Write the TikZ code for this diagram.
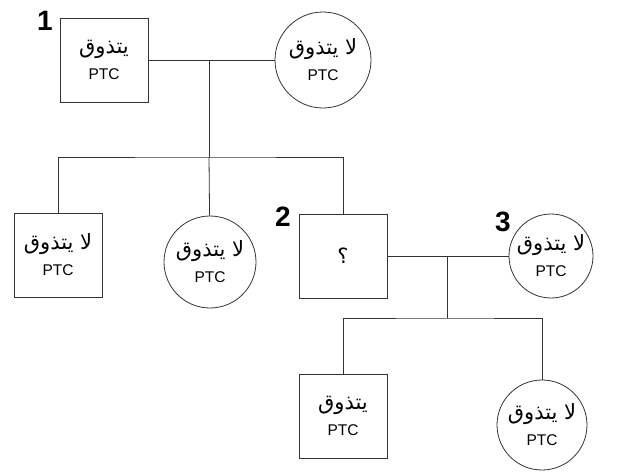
\documentclass[tikz,border=0pt]{standalone}
\usepackage{fontspec}
\setmainfont{Liberation Sans}
\newfontfamily\arabicfont[Script=Arabic]{DejaVu Sans}
\TeXXeTstate=1
\usetikzlibrary{positioning}
\colorlet{colorLine}{black!80}
\newcommand{\artxt}[1]{{\arabicfont\fontsize{21}{26}\selectfont\beginR #1\endR}}
\newcommand{\ptc}[1]{\artxt{#1}\\PTC}
\tikzset{
   link/.style={draw=colorLine,line width=0.8pt},
   male/.style={rectangle,draw=colorLine,line width=0.8pt,minimum width=88pt,minimum height=84pt,
      inner sep=0pt,align=center,font=\fontsize{15.5}{26}\selectfont},
   female/.style={circle,draw=colorLine,line width=0.8pt,minimum size=#1,
      inner sep=0pt,align=center,font=\fontsize{15.5}{26}\selectfont},
   gen/.style={font=\fontsize{28}{30}\selectfont\bfseries,inner sep=0pt},
}

\begin{document}
\begin{tikzpicture}[x=1pt,y=-1pt]
      \useasboundingbox (0,0) rectangle (618,472);
      \node[male] (f1) at (104,60) {\ptc{يتذوق}};
      \node[female=96pt] (m1) at (323,60) {\ptc{لا يتذوق}};
      \node[gen] (n1) at (45,21) {1};
      \node[male] (c1) at (58,255) {\ptc{لا يتذوق}};
      \node[female=92pt] (c2) at (210,262) {\ptc{لا يتذوق}};
      \node[male] (p2) at (343,256) {\artxt{؟}};
      \node[gen] (n2) at (283,217) {2};
      \node[female=84pt] (m3) at (551,256) {\ptc{لا يتذوق}};
      \node[gen] (n3) at (503,222) {3};
      \node[male] (g1) at (343,416) {\ptc{يتذوق}};
      \node[female=90pt] (g2) at (542,425) {\ptc{لا يتذوق}};
      \coordinate (k1) at (209,60);
      \coordinate (s1) at (209,157);
      \coordinate (k2) at (447,256);
      \coordinate (s2) at (447,318);
      \draw[link] (f1) -- (m1);
      \draw[link] (k1) -- (s1);
      \draw[link] (c1) |- (s1) -| (p2);
      \draw[link] (s1) -- (c2);
      \draw[link] (p2) -- (m3);
      \draw[link] (k2) -- (s2);
      \draw[link] (g1) |- (s2) -| (g2);
    \end{tikzpicture}
\end{document}
